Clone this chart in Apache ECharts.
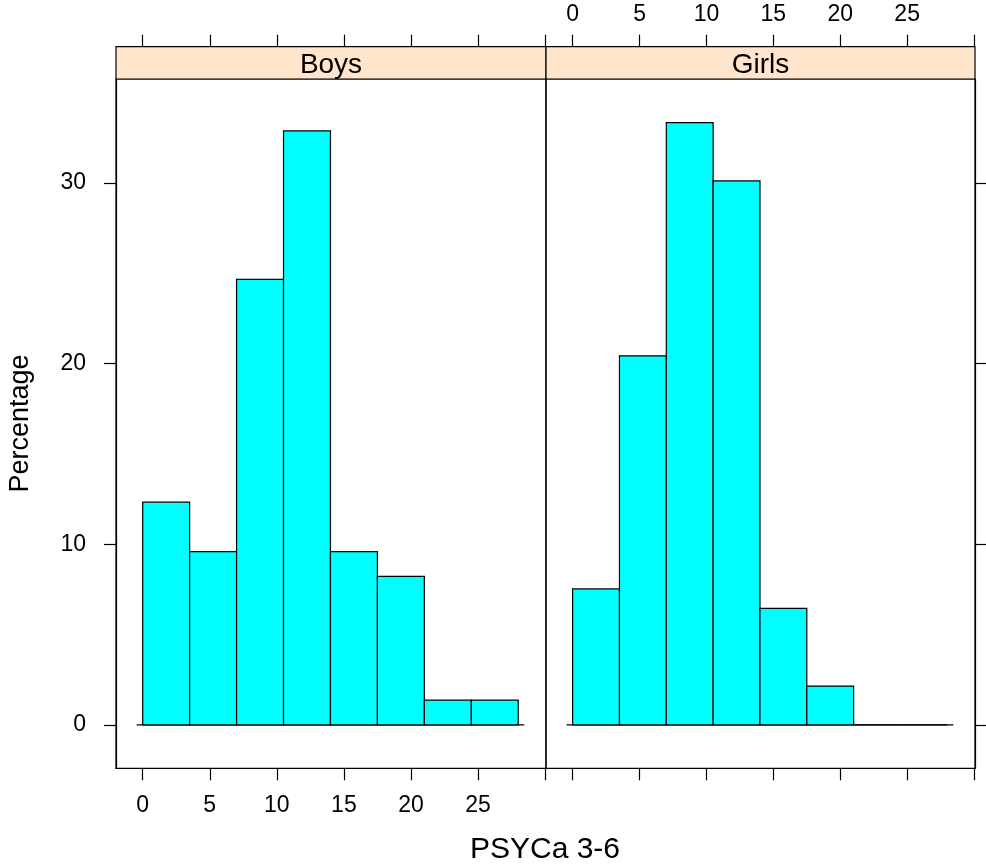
<!DOCTYPE html>
<html>
<head>
<meta charset="utf-8">
<script src="https://cdn.jsdelivr.net/npm/echarts@6/dist/echarts.min.js"></script>
<style>html,body{margin:0;padding:0;background:#fff}#c{width:986px;height:866px}</style>
</head>
<body>
<div id="c"></div>
<script>
const panels = ['Boys', 'Girls'];
const binEdges = [0, 3.5, 7, 10.5, 14, 17.5, 21, 24.5, 28];
const boysPct = [12.33, 9.59, 24.66, 32.88, 9.59, 8.22, 1.37, 1.37];
const girlsPct = [7.53, 20.43, 33.33, 30.11, 6.45, 2.15, 0, 0];
const xTickValues = [0, 5, 10, 15, 20, 25, 30];
const xLabelValues = [0, 5, 10, 15, 20, 25];
const yTickValues = [0, 10, 20, 30];
const xTitle = 'PSYCa 3-6';
const yTitle = 'Percentage';

const FONT = '"Liberation Sans", Arial, sans-serif';
const XMIN = -1.99, XMAX = 30.07, YMIN = -2.4, YMAX = 35.75;
const STRIP_H = 32.3;

function binsData(vals) {
  return vals.map((v, i) => [binEdges[i], binEdges[i + 1], v]);
}
function renderItem(params, api) {
  const p0 = api.coord([api.value(0), api.value(2)]);
  const p1 = api.coord([api.value(1), 0]);
  return {
    type: 'rect',
    shape: { x: p0[0], y: p0[1], width: p1[0] - p0[0], height: p1[1] - p0[1] },
    style: { fill: '#00ffff', stroke: '#000', lineWidth: 1.2 }
  };
}
const tickStyle = { show: true, length: 12, inside: false, lineStyle: { color: '#000', width: 1.2 } };
function xAxis(gridIndex, position, labels) {
  return {
    type: 'value', gridIndex, position, min: XMIN, max: XMAX,
    offset: position === 'top' ? STRIP_H : 0,
    axisLine: { show: position === 'bottom', onZero: false, lineStyle: { color: '#000', width: 1.2 } },
    axisTick: Object.assign({ customValues: xTickValues }, tickStyle),
    axisLabel: labels ? { show: true, customValues: xLabelValues, margin: position === 'top' ? 21 : 26,
      fontSize: 23, color: '#000', fontFamily: FONT } : { show: false },
    splitLine: { show: false }
  };
}
function yAxis(gridIndex, position, labels) {
  return {
    type: 'value', gridIndex, position, min: YMIN, max: YMAX,
    axisLine: { show: true, onZero: false, lineStyle: { color: '#000', width: 1.2 } },
    axisTick: Object.assign({ customValues: yTickValues }, tickStyle),
    axisLabel: labels ? { show: true, customValues: yTickValues, margin: 30,
      fontSize: 23, color: '#000', fontFamily: FONT } : { show: false },
    splitLine: { show: false }
  };
}
const baseline = [[-0.45, 0], [28.45, 0]];

const chart = echarts.init(document.getElementById('c'));
chart.setOption({
  animation: false,
  backgroundColor: '#fff',
  grid: [
    { left: 116, right: 440, top: 79, bottom: 97.7, show: true, borderColor: '#000', borderWidth: 1.2 },
    { left: 546, right: 11, top: 79, bottom: 97.7, show: true, borderColor: '#000', borderWidth: 1.2 }
  ],
  xAxis: [
    xAxis(0, 'bottom', true),
    xAxis(0, 'top', false),
    xAxis(1, 'top', true),
    xAxis(1, 'bottom', false)
  ],
  yAxis: [
    yAxis(0, 'left', true),
    yAxis(1, 'right', false)
  ],
  series: [
    { type: 'custom', name: panels[0], xAxisIndex: 0, yAxisIndex: 0, renderItem,
      encode: { x: [0, 1], y: 2 }, data: binsData(boysPct), silent: true },
    { type: 'custom', name: panels[1], xAxisIndex: 2, yAxisIndex: 1, renderItem,
      encode: { x: [0, 1], y: 2 }, data: binsData(girlsPct), silent: true },
    { type: 'line', xAxisIndex: 0, yAxisIndex: 0, data: baseline, symbol: 'none',
      lineStyle: { color: '#000', width: 1.2 }, silent: true, z: 1 },
    { type: 'line', xAxisIndex: 2, yAxisIndex: 1, data: baseline, symbol: 'none',
      lineStyle: { color: '#000', width: 1.2 }, silent: true, z: 1 }
  ],
  graphic: [
    { type: 'rect', shape: { x: 116, y: 79 - STRIP_H, width: 430, height: STRIP_H },
      style: { fill: '#ffe5cc', stroke: '#000', lineWidth: 1.2 }, z: 10 },
    { type: 'rect', shape: { x: 546, y: 79 - STRIP_H, width: 429, height: STRIP_H },
      style: { fill: '#ffe5cc', stroke: '#000', lineWidth: 1.2 }, z: 10 },
    { type: 'text', x: 331, y: 65, z: 11,
      style: { text: panels[0], font: '28px ' + FONT, fill: '#000', textAlign: 'center', textVerticalAlign: 'middle' } },
    { type: 'text', x: 760.5, y: 65, z: 11,
      style: { text: panels[1], font: '28px ' + FONT, fill: '#000', textAlign: 'center', textVerticalAlign: 'middle' } },
    { type: 'text', x: 545, y: 850, z: 11,
      style: { text: xTitle, font: '30px ' + FONT, fill: '#000', textAlign: 'center', textVerticalAlign: 'middle' } },
    { type: 'text', x: 21, y: 423.5, rotation: Math.PI / 2, z: 11,
      style: { text: yTitle, font: '27px ' + FONT, fill: '#000', textAlign: 'center', textVerticalAlign: 'middle' } }
  ]
});
</script>
</body>
</html>
